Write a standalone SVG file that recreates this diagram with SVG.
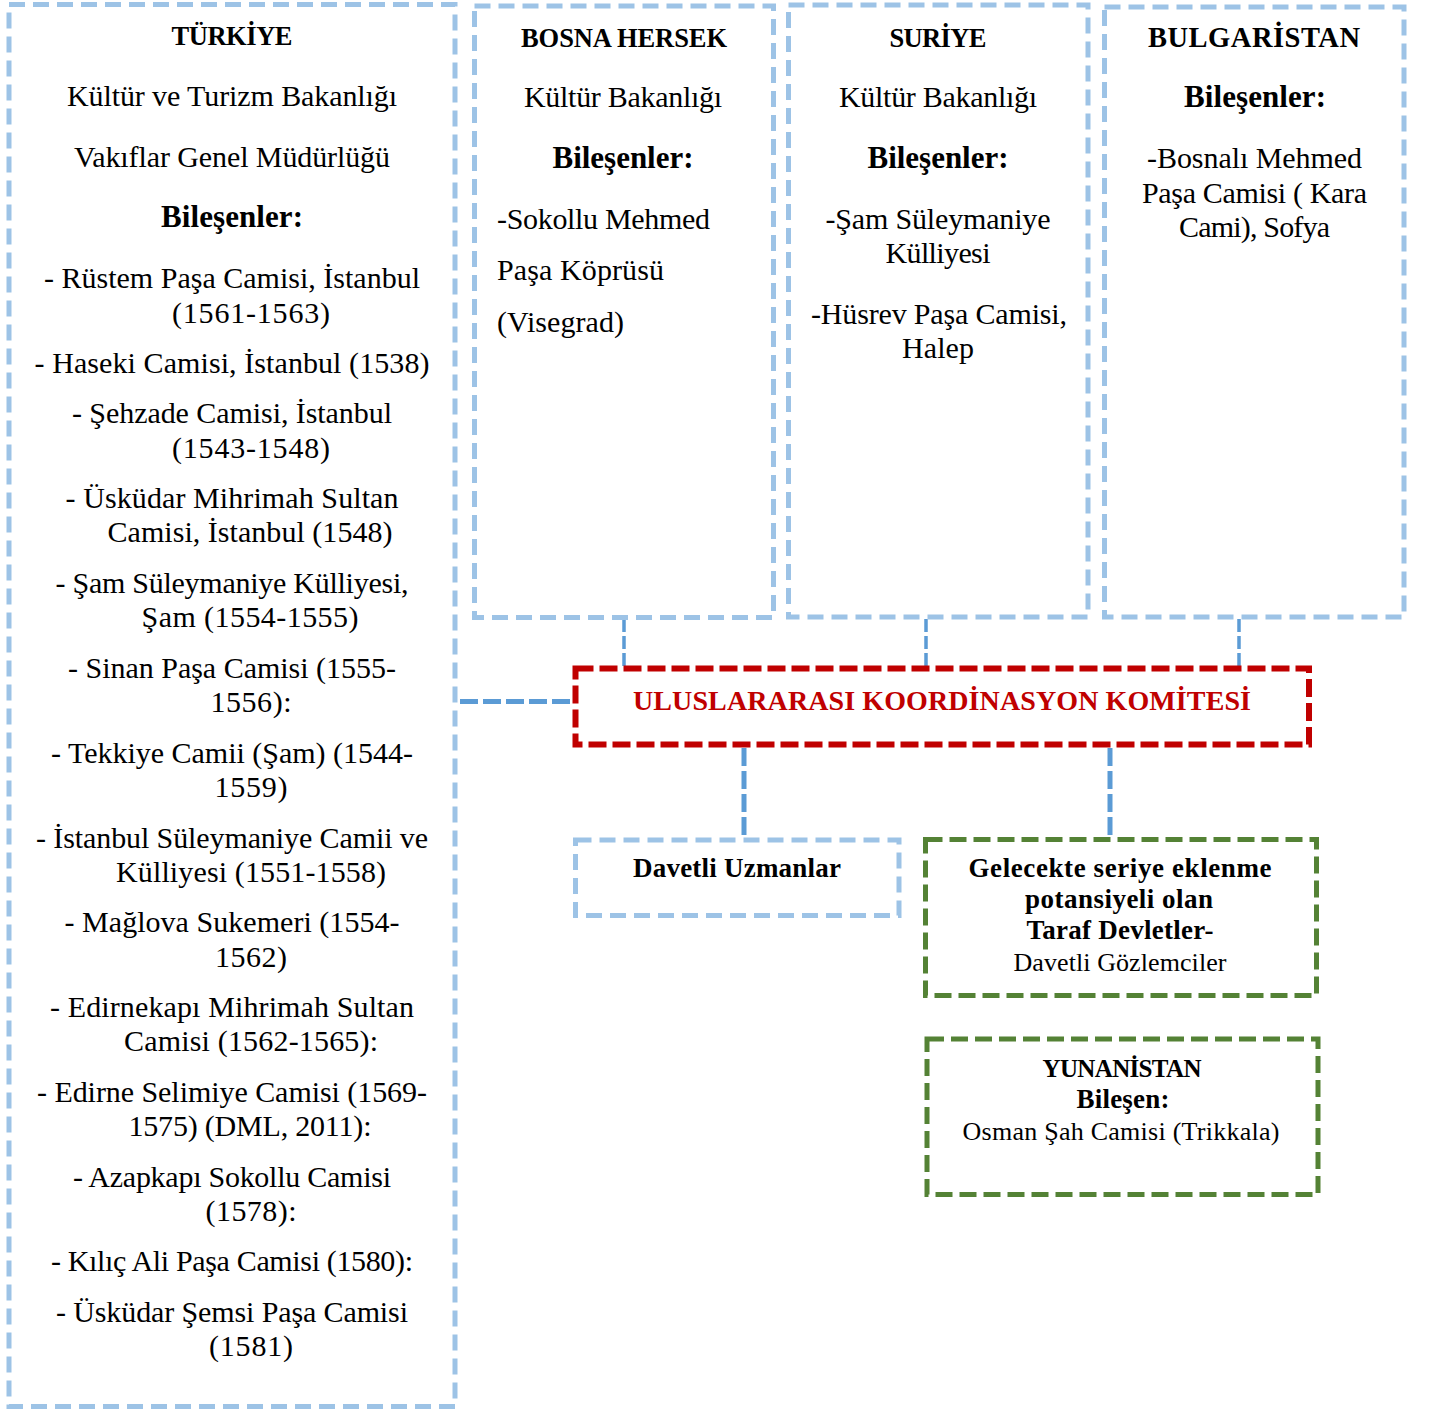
<svg xmlns="http://www.w3.org/2000/svg" width="1429" height="1410" viewBox="0 0 1429 1410">
<style>
.bg{fill:#ffffff}
.lb{fill:none;stroke:#9DC3E6;stroke-width:5;stroke-dasharray:16 8}
.rd{fill:none;stroke:#C00000;stroke-width:6;stroke-dasharray:18 6}
.gr{fill:none;stroke:#548235;stroke-width:5;stroke-dasharray:17 7}
.cn{fill:none;stroke:#5B9BD5;stroke-width:3.5;stroke-dasharray:13 4}
.ck{fill:none;stroke:#5B9BD5;stroke-width:5;stroke-dasharray:18 5}
text{font-family:"Liberation Serif","DejaVu Serif",serif;fill:#000;font-size:30px}
.b{font-weight:bold;font-size:28px}
.h{font-size:26.5px}
.hw{font-size:28.5px}
.bl{font-size:31px}
.c{text-anchor:middle}
.s{font-size:26px}
.sb{font-size:27px}
.sh{font-size:25px}
.red{fill:#C00000}
</style>
<rect class="bg" x="0" y="0" width="1429" height="1410"/>
<g id="connectors">
<line class="cn" x1="624" y1="619" x2="624" y2="667"/>
<line class="cn" x1="926" y1="619" x2="926" y2="667"/>
<line class="cn" x1="1239" y1="619" x2="1239" y2="667"/>
<line class="ck" x1="460" y1="701.5" x2="573" y2="701.5"/>
<line class="ck" x1="744" y1="748" x2="744" y2="835"/>
<line class="ck" x1="1110" y1="748" x2="1110" y2="835"/>
</g>
<g id="turkiye">
<rect class="lb" x="9" y="4.5" width="446" height="1402"/>
<text class="b h c" x="232" y="45" textLength="121">TÜRKİYE</text>
<text class="c" x="232" y="106" textLength="330">Kültür ve Turizm Bakanlığı</text>
<text class="c" x="232" y="167" textLength="316">Vakıflar Genel Müdürlüğü</text>
<text class="b bl c" x="232" y="227" textLength="142">Bileşenler:</text>
<text class="c" x="232" y="288" textLength="376">-  Rüstem Paşa Camisi, İstanbul</text>
<text class="c" x="251" y="323" textLength="158">(1561-1563)</text>
<text class="c" x="232" y="373" textLength="395">-  Haseki Camisi, İstanbul (1538)</text>
<text class="c" x="232" y="423" textLength="320">-  Şehzade Camisi, İstanbul</text>
<text class="c" x="251" y="458" textLength="158">(1543-1548)</text>
<text class="c" x="232" y="508" textLength="333">-  Üsküdar Mihrimah Sultan</text>
<text class="c" x="250" y="542" textLength="285">Camisi, İstanbul (1548)</text>
<text class="c" x="232" y="593" textLength="353">-  Şam Süleymaniye Külliyesi,</text>
<text class="c" x="250" y="627" textLength="217">Şam (1554-1555)</text>
<text class="c" x="232" y="678" textLength="328">-  Sinan Paşa Camisi (1555-</text>
<text class="c" x="251" y="712" textLength="81">1556):</text>
<text class="c" x="232" y="763" textLength="362">-  Tekkiye Camii (Şam) (1544-</text>
<text class="c" x="251" y="797" textLength="73">1559)</text>
<text class="c" x="232" y="848" textLength="392">-  İstanbul Süleymaniye Camii ve</text>
<text class="c" x="251" y="882" textLength="270">Külliyesi (1551-1558)</text>
<text class="c" x="232" y="932" textLength="335">-  Mağlova Sukemeri (1554-</text>
<text class="c" x="251" y="967" textLength="72">1562)</text>
<text class="c" x="232" y="1017" textLength="364">-  Edirnekapı Mihrimah Sultan</text>
<text class="c" x="251" y="1051" textLength="254">Camisi (1562-1565):</text>
<text class="c" x="232" y="1102" textLength="390">-  Edirne Selimiye Camisi (1569-</text>
<text class="c" x="250" y="1136" textLength="243">1575) (DML, 2011):</text>
<text class="c" x="232" y="1187" textLength="318">-  Azapkapı Sokollu Camisi</text>
<text class="c" x="251" y="1221" textLength="91">(1578):</text>
<text class="c" x="232" y="1271" textLength="362">-  Kılıç Ali Paşa Camisi (1580):</text>
<text class="c" x="232" y="1322" textLength="352">-  Üsküdar Şemsi Paşa Camisi</text>
<text class="c" x="251" y="1356" textLength="84">(1581)</text>
</g>
<g id="bosna">
<rect class="lb" x="474.5" y="6" width="299" height="611.5"/>
<text class="b h c" x="624" y="47" textLength="206">BOSNA HERSEK</text>
<text class="c" x="623" y="107" textLength="198">Kültür Bakanlığı</text>
<text class="b bl c" x="623" y="168" textLength="141">Bileşenler:</text>
<text x="497" y="229" textLength="213">-Sokollu Mehmed</text>
<text x="497" y="280" textLength="167">Paşa Köprüsü</text>
<text x="497" y="332" textLength="127">(Visegrad)</text>
</g>
<g id="suriye">
<rect class="lb" x="788.5" y="5" width="299.5" height="612"/>
<text class="b h c" x="938" y="47" textLength="97">SURİYE</text>
<text class="c" x="938" y="107" textLength="198">Kültür Bakanlığı</text>
<text class="b bl c" x="938" y="168" textLength="141">Bileşenler:</text>
<text class="c" x="938" y="229" textLength="225">-Şam Süleymaniye</text>
<text class="c" x="938" y="263" textLength="105">Külliyesi</text>
<text class="c" x="939" y="324" textLength="256">-Hüsrev Paşa Camisi,</text>
<text class="c" x="938" y="358" textLength="72">Halep</text>
</g>
<g id="bulgaristan">
<rect class="lb" x="1104.5" y="7" width="299.5" height="610"/>
<text class="b hw c" x="1254" y="47" textLength="212">BULGARİSTAN</text>
<text class="b bl c" x="1255" y="107" textLength="142">Bileşenler:</text>
<text class="c" x="1254.5" y="168" textLength="215">-Bosnalı Mehmed</text>
<text class="c" x="1254.5" y="203" textLength="225">Paşa Camisi ( Kara</text>
<text class="c" x="1254.5" y="237" textLength="151">Cami), Sofya</text>
</g>
<g id="komite">
<rect class="rd" x="575.5" y="668.5" width="733.5" height="76"/>
<text class="b c red" x="942" y="710" textLength="618">ULUSLARARASI KOORDİNASYON KOMİTESİ</text>
</g>
<g id="uzmanlar">
<rect class="lb" x="575.5" y="840" width="323.5" height="75.5"/>
<text class="b sb c" x="737" y="877" textLength="208">Davetli Uzmanlar</text>
</g>
<g id="gelecekte">
<rect class="gr" x="925.5" y="839.5" width="391" height="156"/>
<text class="b sb c" x="1120" y="877" textLength="303">Gelecekte seriye eklenme</text>
<text class="b sb c" x="1119" y="908" textLength="188">potansiyeli olan</text>
<text class="b sb c" x="1120" y="939" textLength="187">Taraf Devletler-</text>
<text class="c s" x="1120" y="971" textLength="213">Davetli Gözlemciler</text>
</g>
<g id="yunanistan">
<rect class="gr" x="927" y="1039" width="391" height="155.5"/>
<text class="b sh c" x="1122" y="1077" textLength="159">YUNANİSTAN</text>
<text class="b sb c" x="1123" y="1108" textLength="93">Bileşen:</text>
<text class="c s" x="1121" y="1140" textLength="317">Osman Şah Camisi (Trikkala)</text>
</g>
</svg>
